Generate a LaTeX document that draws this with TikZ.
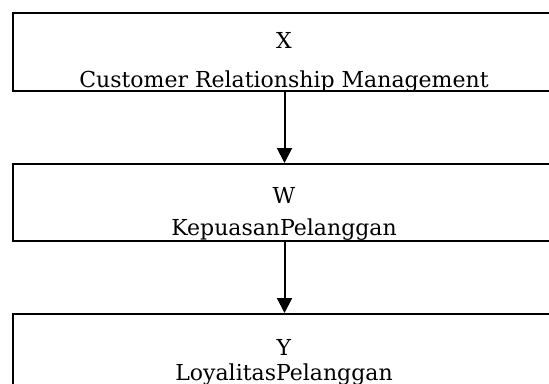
\documentclass[tikz,border=0pt]{standalone}
\usepackage{fontspec}
\setmainfont{DejaVu Serif}
\usetikzlibrary{arrows.meta}

\tikzset{
  kotak/.style={draw, line width=2pt, minimum width=543pt, inner sep=0pt, anchor=north west},
  teks/.style={font=\fontsize{22}{26}\selectfont, inner sep=0pt, anchor=base},
  panah/.style={-{Triangle[length=15pt,width=15pt]}, line width=2pt}
}

\begin{document}
\begin{tikzpicture}[x=1pt,y=-1pt]
	\clip (0,0) rectangle (549,383);
	% kotak variabel
	\node[kotak, minimum height=78pt] (boxX) at (12,12) {};
	\node[kotak, minimum height=77pt] (boxW) at (12,163) {};
	\node[kotak, minimum height=90pt] (boxY) at (12,313) {};
	% teks, terpotong di bawah
	\begin{scope}
	\clip (boxX.north west) rectangle ([yshift=1.5pt]boxX.south east);
	\draw (284,48) node[teks] (lblX) {X};
	\draw (284,87) node[teks] (nmX) {Customer Relationship Management};
	\end{scope}
	\begin{scope}
	\clip (boxW.north west) rectangle ([yshift=3pt]boxW.south east);
	\draw (284,203) node[teks] (lblW) {W};
	\draw (284,235) node[teks] (nmW) {KepuasanPelanggan};
	\end{scope}
	\draw (284,355) node[teks] (lblY) {Y};
	\draw (284,380) node[teks] (nmY) {LoyalitasPelanggan};
	% panah
	\draw[panah] (boxX.south) -- (boxW.north);
	\draw[panah] (boxW.south) -- (boxY.north);
\end{tikzpicture}
\end{document}
